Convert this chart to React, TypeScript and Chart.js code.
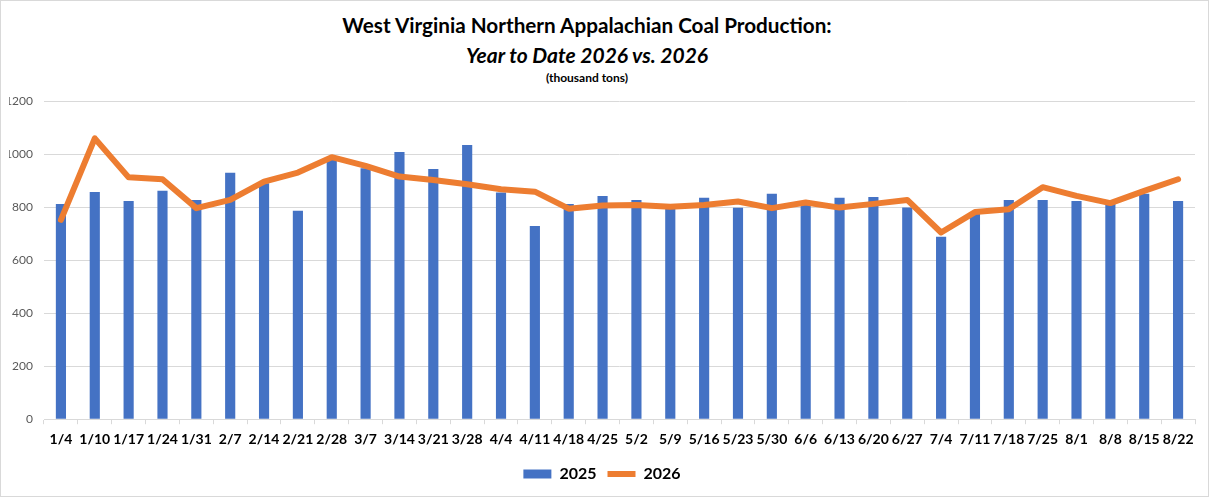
import { useEffect, useRef } from "react"
import { Chart, registerables } from "chart.js"

Chart.register(...registerables)

const weeks = [
  "1/4", "1/10", "1/17", "1/24", "1/31", "2/7", "2/14", "2/21", "2/28", "3/7",
  "3/14", "3/21", "3/28", "4/4", "4/11", "4/18", "4/25", "5/2", "5/9", "5/16",
  "5/23", "5/30", "6/6", "6/13", "6/20", "6/27", "7/4", "7/11", "7/18", "7/25",
  "8/1", "8/8", "8/15", "8/22",
]

// 2025 weekly production (bars)
const production2025 = [
  812, 857, 823, 862, 827, 929, 890, 786, 978, 946,
  1008, 944, 1034, 855, 729, 812, 842, 827, 800, 835,
  797, 850, 810, 835, 838, 798, 688, 775, 827, 827,
  823, 815, 850, 823,
]

// 2026 weekly production (line)
const production2026 = [
  752, 1059, 912, 905, 796, 827, 896, 930, 988, 955,
  915, 902, 886, 867, 858, 794, 806, 808, 801, 808,
  821, 796, 817, 798, 812, 827, 704, 781, 792, 875,
  842, 815, 861, 905,
]

const yTicks = [0, 200, 400, 600, 800, 1000, 1200]

const FONT = "Lato, 'Liberation Sans', sans-serif"

export default function App() {
  const canvasRef = useRef<HTMLCanvasElement>(null)

  useEffect(() => {
    if (!canvasRef.current) return
    const ctx = canvasRef.current.getContext("2d")
    if (!ctx) return

    const chart = new Chart(ctx, {
      type: "bar",
      data: {
        labels: weeks,
        datasets: [
          {
            type: "line",
            label: "2026",
            data: production2026,
            borderColor: "#ED7D31",
            backgroundColor: "#ED7D31",
            borderWidth: 6,
            borderJoinStyle: "round",
            borderCapStyle: "round",
            pointRadius: 0,
            tension: 0,
            pointStyle: "line",
            order: 0,
          },
          {
            type: "bar",
            label: "2025",
            data: production2025,
            backgroundColor: "#4472C4",
            borderWidth: 0,
            barPercentage: 0.3,
            categoryPercentage: 1,
            pointStyle: "rect",
            order: 1,
          },
        ],
      },
      options: {
        responsive: true,
        maintainAspectRatio: false,
        animation: false,
        layout: {
          padding: { top: 100, left: 8, right: 13, bottom: 4 },
        },
        plugins: {
          legend: {
            position: "bottom",
            reverse: true,
            labels: {
              usePointStyle: true,
              pointStyleWidth: 28,
              boxHeight: 9,
              padding: 11,
              color: "#000",
              font: { family: FONT, size: 16, weight: "bold" },
            },
          },
          tooltip: { enabled: false },
        },
        scales: {
          x: {
            grid: {
              display: true,
              drawOnChartArea: false,
              drawTicks: true,
              tickLength: 5,
              color: "#d9d9d9",
            },
            border: { color: "#d9d9d9" },
            ticks: {
              autoSkip: false,
              maxRotation: 0,
              minRotation: 0,
              padding: 7,
              color: "#000",
              font: { family: FONT, size: 14, weight: "bold" },
            },
          },
          y: {
            min: 0,
            max: 1200,
            afterBuildTicks: (axis) => {
              axis.ticks = yTicks.map((v) => ({ value: v }))
            },
            afterFit: (axis) => {
              axis.width = 35
            },
            grid: { color: "#d9d9d9", drawTicks: false },
            border: { display: false },
            ticks: {
              padding: 11,
              color: "#595959",
              font: { family: FONT, size: 12 },
              callback: (value) => String(value),
            },
          },
        },
      },
    })

    return () => chart.destroy()
  }, [])

  return (
    <div
      style={{
        position: "absolute",
        left: 0,
        top: 0,
        width: 1209,
        height: 497,
        border: "1px solid #d9d9d9",
        boxSizing: "border-box",
        background: "#fff",
        fontFamily: FONT,
      }}
    >
      <div style={{ position: "absolute", left: 0, width: 1172, top: 10, textAlign: "center", color: "#000" }}>
        <div style={{ fontSize: 20.7, fontWeight: "bold", lineHeight: "28px" }}>
          West Virginia Northern Appalachian Coal Production:
        </div>
        <div style={{ fontSize: 21, fontWeight: "bold", fontStyle: "italic", lineHeight: "32px" }}>
          Year to Date 2026 vs. 2026
        </div>
        <div style={{ fontSize: 12, fontWeight: "bold", lineHeight: "14px" }}>(thousand tons)</div>
      </div>
      <div style={{ position: "absolute", left: 0, top: 0, width: 1207, height: 495 }}>
        <canvas ref={canvasRef}></canvas>
      </div>
    </div>
  )
}
